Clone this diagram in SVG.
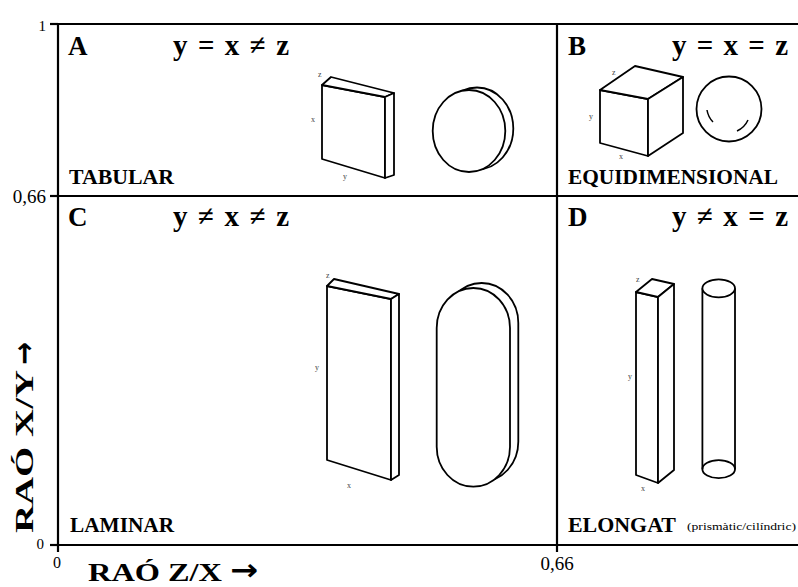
<svg xmlns="http://www.w3.org/2000/svg" width="798" height="587" viewBox="0 0 798 587">
  <style>
    .frame { stroke: #000; stroke-width: 2.2; fill: none; }
    .solid { stroke: #000; stroke-width: 1.8; fill: #fff; stroke-linejoin: round; }
    .thin { stroke: #000; stroke-width: 1.5; fill: none; }
    .tick { font-family: "Liberation Serif", "Times New Roman", serif; font-size: 19px; fill: #000; }
    .letter { font-family: "Liberation Serif", "Times New Roman", serif; font-weight: bold; font-size: 27px; fill: #000; }
    .eq { font-family: "Liberation Serif", "Times New Roman", serif; font-weight: bold; font-size: 29px; fill: #000; }
    .name { font-family: "Liberation Serif", "Times New Roman", serif; font-weight: bold; font-size: 21px; fill: #000; }
    .axis { font-family: "Liberation Serif", "Times New Roman", serif; font-weight: bold; font-size: 26px; fill: #000; }
    .arrow { font-family: "DejaVu Sans", sans-serif; font-weight: bold; font-size: 30px; fill: #000; }
    .dim { font-family: "Liberation Serif", "Times New Roman", serif; font-size: 8px; fill: #444; }
    .note { font-family: "Liberation Serif", "Times New Roman", serif; font-size: 11px; fill: #000; }
  </style>

  <!-- chart frame and quadrant dividers -->
  <g id="frame">
    <line class="frame" x1="58" y1="24" x2="798" y2="24"/>
    <line class="frame" x1="58" y1="196" x2="798" y2="196"/>
    <line class="frame" x1="58" y1="545" x2="798" y2="545"/>
    <line class="frame" x1="58" y1="24" x2="58" y2="552"/>
    <line class="frame" x1="557" y1="24" x2="557" y2="552"/>
    <line class="frame" x1="50" y1="24" x2="58" y2="24"/>
    <line class="frame" x1="50" y1="196" x2="58" y2="196"/>
    <line class="frame" x1="50" y1="545" x2="58" y2="545"/>
  </g>

  <!-- axis ticks and titles -->
  <g id="axes">
    <text class="tick" x="46" y="31" text-anchor="end" style="font-size:15px">1</text>
    <text class="tick" x="46" y="203" text-anchor="end">0,66</text>
    <text class="tick" x="44" y="549" text-anchor="end" style="font-size:15px">0</text>
    <text class="tick" x="57" y="568" text-anchor="middle" style="font-size:16px">0</text>
    <text class="tick" x="557" y="570" text-anchor="middle">0,66</text>
    <text class="axis" x="88" y="581" textLength="134" lengthAdjust="spacingAndGlyphs">RAÓ Z/X</text>
    <text class="arrow" x="230" y="580" textLength="28" lengthAdjust="spacingAndGlyphs">→</text>
    <g transform="translate(33,533) rotate(-90)">
      <text class="axis" x="0" y="0" textLength="163" lengthAdjust="spacingAndGlyphs">RAÓ X/Y</text>
      <text class="arrow" x="168" y="1" textLength="23" lengthAdjust="spacingAndGlyphs">→</text>
    </g>
  </g>

  <!-- A: tabular -->
  <g id="quadrant-a">
    <text class="letter" x="68" y="55">A</text>
    <text class="eq" x="173" y="55" textLength="116" lengthAdjust="spacing">y = x ≠ z</text>
    <text class="name" x="69" y="184" textLength="105" lengthAdjust="spacingAndGlyphs">TABULAR</text>
    <polygon class="solid" points="322,85 385,97 385,178 322,159"/>
    <polygon class="solid" points="322,85 331,77 394,93 385,97"/>
    <polygon class="solid" points="385,97 394,93 394,175 385,178"/>
    <text class="dim" x="318" y="77">z</text>
    <text class="dim" x="311" y="122">x</text>
    <text class="dim" x="343" y="179">y</text>
    <ellipse class="solid" cx="477" cy="128.5" rx="36.3" ry="41"/>
    <ellipse class="solid" cx="469" cy="131" rx="36.3" ry="41"/>
  </g>

  <!-- B: equidimensional -->
  <g id="quadrant-b">
    <text class="letter" x="568" y="55">B</text>
    <text class="eq" x="672" y="55" textLength="116" lengthAdjust="spacing">y = x = z</text>
    <text class="name" x="568" y="184" textLength="210" lengthAdjust="spacingAndGlyphs">EQUIDIMENSIONAL</text>
    <polygon class="solid" points="600,90 648,99 648,156 600,143"/>
    <polygon class="solid" points="600,90 635,66 683,77 648,99"/>
    <polygon class="solid" points="648,99 683,77 683,133 648,156"/>
    <text class="dim" x="612" y="75">z</text>
    <text class="dim" x="589" y="119">y</text>
    <text class="dim" x="619" y="159">x</text>
    <circle class="solid" cx="729" cy="109" r="32.5"/>
    <path class="thin" d="M707,110 A22,22 0 0 0 713,122"/>
    <path class="thin" d="M748,120 A22,22 0 0 1 737,131"/>
  </g>

  <!-- C: laminar -->
  <g id="quadrant-c">
    <text class="letter" x="68" y="226">C</text>
    <text class="eq" x="173" y="226" textLength="116" lengthAdjust="spacing">y ≠ x ≠ z</text>
    <text class="name" x="70" y="532" textLength="104" lengthAdjust="spacingAndGlyphs">LAMINAR</text>
    <polygon class="solid" points="327,286 391,299 391,480 327,460"/>
    <polygon class="solid" points="327,286 334,279 399,294 391,299"/>
    <polygon class="solid" points="391,299 399,294 399,475 391,480"/>
    <text class="dim" x="326" y="278">z</text>
    <text class="dim" x="315" y="370">y</text>
    <text class="dim" x="347" y="488">x</text>
    <rect class="solid" x="445" y="283" width="73.3" height="198.7" rx="36.6" ry="40"/>
    <rect class="solid" x="436.7" y="288" width="73.3" height="198.7" rx="36.6" ry="40"/>
  </g>

  <!-- D: elongated -->
  <g id="quadrant-d">
    <text class="letter" x="568" y="226">D</text>
    <text class="eq" x="672" y="226" textLength="116" lengthAdjust="spacing">y ≠ x = z</text>
    <text class="name" x="568" y="532" textLength="108" lengthAdjust="spacingAndGlyphs">ELONGAT</text>
    <text class="note" x="687" y="530" textLength="109" lengthAdjust="spacingAndGlyphs">(prismàtic/cilíndric)</text>
    <polygon class="solid" points="636,292 658,297 658,483 636,475"/>
    <polygon class="solid" points="636,292 652,279 674,284 658,297"/>
    <polygon class="solid" points="658,297 674,284 674,470 658,483"/>
    <text class="dim" x="636" y="282">z</text>
    <text class="dim" x="628" y="379">y</text>
    <text class="dim" x="641" y="491">x</text>
    <line class="solid" x1="702.4" y1="288.3" x2="702.4" y2="469.2"/>
    <line class="solid" x1="735" y1="288.3" x2="735" y2="469.2"/>
    <ellipse class="solid" cx="718.7" cy="288.3" rx="16.3" ry="9"/>
    <ellipse class="thin" cx="718.7" cy="469.2" rx="16.3" ry="9" style="stroke-width:1.8"/>
  </g>
</svg>
